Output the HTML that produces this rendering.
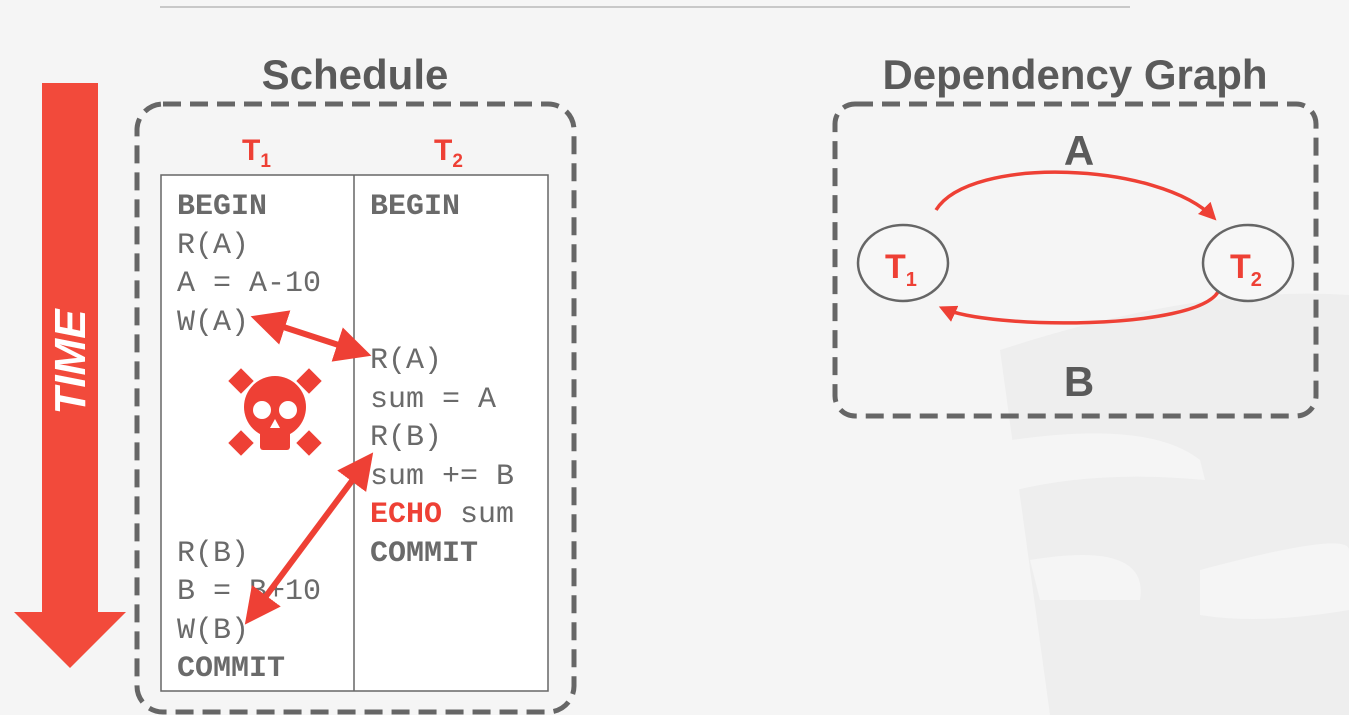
<!DOCTYPE html>
<html><head><meta charset="utf-8"><style>
html,body{margin:0;padding:0;background:#f5f5f5;width:1349px;height:715px;overflow:hidden}
svg{display:block}
.mono{font-family:"Liberation Mono",monospace;font-size:30px;fill:#6a6a6a}
.b{font-weight:bold}
.title{font-family:"Liberation Sans",sans-serif;font-weight:bold;font-size:42px;fill:#5a5a5a}
.red{fill:#ee4035}
</style></head><body>
<svg width="1349" height="715" viewBox="0 0 1349 715">
<defs>
<marker id="ah" markerWidth="6" markerHeight="6" refX="4" refY="3" orient="auto-start-reverse" markerUnits="strokeWidth"><path d="M0,0 L6,3 L0,6 Z" fill="#ee4035"/></marker>
<marker id="ah2" markerWidth="5" markerHeight="5" refX="4" refY="2.5" orient="auto-start-reverse" markerUnits="strokeWidth"><path d="M0,0 L5,2.5 L0,5 Z" fill="#ee4035"/></marker>
</defs>
<g fill="#eeeeee">
<path d="M1000,350 Q1200,285 1349,295 L1349,715 L1050,715 Z"/>
</g>
<g fill="#f5f5f5">
<path d="M1012,440 Q1150,420 1200,460 L1205,480 Q1100,470 1016,490 Z"/>
<path d="M1030,560 Q1150,540 1140,600 L1040,600 Z"/>
<path d="M1200,570 Q1349,530 1349,550 L1349,610 Q1260,625 1200,615 Z"/>
</g>
<line x1="160" y1="7" x2="1130" y2="7" stroke="#c8c8c8" stroke-width="2"/>

<g>
<rect x="42" y="83" width="56" height="530" fill="#f24a3b"/>
<path d="M14,612 L126,612 L70,668 Z" fill="#f24a3b"/>
<text x="0" y="0" transform="translate(85,362) rotate(-90)" text-anchor="middle" font-family="Liberation Sans,sans-serif" font-weight="bold" font-style="italic" font-size="44" fill="#fff">TIME</text>
</g>

<text x="355" y="89" text-anchor="middle" class="title">Schedule</text>
<rect x="137" y="104" width="437" height="608" rx="26" fill="none" stroke="#666" stroke-width="5" stroke-dasharray="18 9"/>
<text x="242" y="160" font-family="Liberation Sans,sans-serif" font-weight="bold" font-size="30" class="red">T<tspan font-size="19" dy="7">1</tspan></text>
<text x="434" y="160" font-family="Liberation Sans,sans-serif" font-weight="bold" font-size="30" class="red">T<tspan font-size="19" dy="7">2</tspan></text>
<rect x="161" y="175" width="387" height="516" fill="#fff" stroke="#666" stroke-width="1.5"/>
<line x1="354" y1="175" x2="354" y2="691" stroke="#666" stroke-width="1.5"/>
<g>
<text x="177" y="214" class="mono b">BEGIN</text>
<text x="177" y="253" class="mono">R(A)</text>
<text x="177" y="291" class="mono">A = A-10</text>
<text x="177" y="330" class="mono">W(A)</text>
<text x="177" y="561" class="mono">R(B)</text>
<text x="177" y="599" class="mono">B = B+10</text>
<text x="177" y="638" class="mono">W(B)</text>
<text x="177" y="676" class="mono b">COMMIT</text>
</g>
<g>
<text x="370" y="214" class="mono b">BEGIN</text>
<text x="370" y="368" class="mono">R(A)</text>
<text x="370" y="407" class="mono">sum = A</text>
<text x="370" y="445" class="mono">R(B)</text>
<text x="370" y="484" class="mono">sum += B</text>
<text x="370" y="522" class="mono"><tspan class="b red">ECHO</tspan> sum</text>
<text x="370" y="561" class="mono b">COMMIT</text>
</g>
<line x1="262" y1="320" x2="360" y2="352" stroke="#ee4035" stroke-width="6" marker-start="url(#ah)" marker-end="url(#ah)"/>
<line x1="366" y1="462" x2="252" y2="615" stroke="#ee4035" stroke-width="6" marker-start="url(#ah)" marker-end="url(#ah)"/>
<g fill="#ee4035">
<rect x="232" y="372" width="18" height="18" transform="rotate(45 241 381)"/>
<rect x="300" y="372" width="18" height="18" transform="rotate(45 309 381)"/>
<rect x="232" y="434" width="18" height="18" transform="rotate(45 241 443)"/>
<rect x="300" y="434" width="18" height="18" transform="rotate(45 309 443)"/>
<circle cx="275" cy="407" r="31"/>
<rect x="260" y="425" width="30" height="25" rx="3"/>
<circle cx="262" cy="410" r="9" fill="#fff"/>
<circle cx="288" cy="410" r="9" fill="#fff"/>
<path d="M275,419 L270,428 L280,428 Z" fill="#fff"/>
</g>

<text x="1075" y="89" text-anchor="middle" class="title">Dependency Graph</text>
<rect x="835" y="104" width="481" height="312" rx="20" fill="none" stroke="#666" stroke-width="5" stroke-dasharray="18 9"/>
<path d="M936,210 C970,155 1160,162 1214,218" fill="none" stroke="#ee4035" stroke-width="3.5" marker-end="url(#ah2)"/>
<path d="M1218,292 C1195,330 990,330 942,308" fill="none" stroke="#ee4035" stroke-width="3.5" marker-end="url(#ah2)"/>
<ellipse cx="903" cy="263" rx="45" ry="38" fill="#f7f7f7" stroke="#666" stroke-width="2.5"/>
<ellipse cx="1248" cy="263" rx="45" ry="38" fill="#f7f7f7" stroke="#666" stroke-width="2.5"/>
<text x="885" y="278" font-family="Liberation Sans,sans-serif" font-weight="bold" font-size="34" class="red">T<tspan font-size="20" dy="8">1</tspan></text>
<text x="1230" y="278" font-family="Liberation Sans,sans-serif" font-weight="bold" font-size="34" class="red">T<tspan font-size="20" dy="8">2</tspan></text>
<text x="1079" y="165" text-anchor="middle" class="title" font-size="38">A</text>
<text x="1079" y="396" text-anchor="middle" class="title" font-size="38">B</text>
</svg>
</body></html>
